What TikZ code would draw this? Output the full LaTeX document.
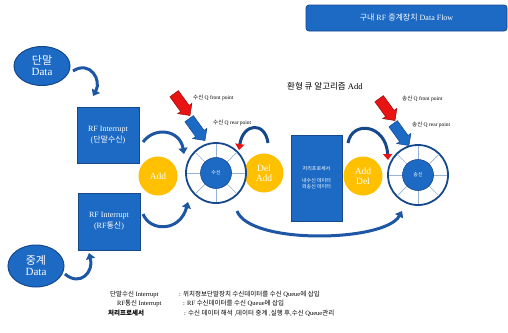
\documentclass[tikz,border=0pt]{standalone}
\usepackage{fontspec}
\setmainfont{Liberation Serif}
\newfontfamily\kr{Noto Sans CJK KR}
\usetikzlibrary{arrows.meta,shapes.arrows,shapes.geometric}
\definecolor{myblue}{RGB}{28,106,196}
\definecolor{edgeblue}{RGB}{22,72,140}
\definecolor{arrowblue}{RGB}{28,86,164}
\definecolor{myyellow}{RGB}{255,192,0}
\definecolor{myred}{RGB}{232,20,20}
\definecolor{darkred}{RGB}{150,10,10}
\definecolor{spoke}{RGB}{150,180,215}
\begin{document}
\begin{tikzpicture}[x=1pt,y=-1pt,
  bluebox/.style={draw=edgeblue, line width=0.8pt, fill=myblue, text=white, inner sep=0pt, align=center},
  blueell/.style={ellipse, draw=edgeblue, line width=1pt, fill=myblue, text=white, inner sep=0pt, align=center, font=\fontsize{11}{12}\selectfont},
  yel/.style={circle, fill=myyellow, text=white, inner sep=0pt, minimum size=39pt, align=center, font=\fontsize{9.5}{10.5}\selectfont},
  ring/.style={circle, draw=edgeblue, line width=1.8pt, fill=white, minimum size=60pt, inner sep=0pt},
  hub/.style={circle, draw=edgeblue, line width=0.6pt, fill=myblue, minimum size=31pt, inner sep=0pt, text=white, font=\kr\fontsize{5}{6}\selectfont},
  curvearrow/.style={draw=arrowblue, line width=3pt, -{Triangle[length=6pt,width=9pt]}},
  redcurve/.style={draw=edgeblue, line width=3pt, -{Triangle[length=6pt,width=9pt,color=myred]}},
  redblock/.style={single arrow, draw=darkred, fill=myred, line width=0.5pt, minimum height=27pt, inner sep=5pt, single arrow head extend=3.5pt, single arrow head indent=0pt, rotate=-54},
  blueblock/.style={single arrow, draw=edgeblue, fill=myblue, line width=0.5pt, minimum height=27pt, inner sep=5pt, single arrow head extend=3.5pt, rotate=-54},
  qlabel/.style={anchor=west, inner sep=0pt, font=\fontsize{5.5}{6}\selectfont},
  note/.style={anchor=west, inner sep=0pt, font=\fontsize{6.5}{8}\selectfont}]
\useasboundingbox (0,0) rectangle (508,332);

% title
\node[bluebox, rounded corners=3pt, minimum width=201pt, minimum height=26pt, font=\fontsize{8}{9}\selectfont] (title) at (406.5,18) {{\kr 구내} RF {\kr 중계장치} Data Flow};

% data ellipses
\node[blueell, minimum width=56pt, minimum height=39pt] (d1) at (42,66) {{\kr 단말}\\[-1pt]Data};
\node[blueell, minimum width=56pt, minimum height=42pt] (d2) at (36,266) {{\kr 중계}\\[-1pt]Data};

% interrupt boxes
\node[bluebox, minimum width=62pt, minimum height=56pt, font=\fontsize{8}{11}\selectfont] (b1) at (108,135) {RF Interrupt\\({\kr 단말수신})};
\node[bluebox, minimum width=62pt, minimum height=57pt, font=\fontsize{8}{11}\selectfont] (b2) at (109,221.5) {RF Interrupt\\(RF{\kr 통신})};

% processor box
\node[bluebox, minimum width=51pt, minimum height=86pt, font=\kr\fontsize{5}{8}\selectfont] (proc) at (316.5,178) {처리프로세서\\[4pt]내수신 데이터\\[-2pt]외송신 데이터};

% yellow circles
\node[yel] (add1) at (158,176) {Add};
\node[yel] (deladd) at (264,173) {Del\\[-1pt]Add};
\node[yel] (adddel) at (363,176) {Add\\[-1pt]Del};

% wheels
\node[ring] (w1) at (216,173) {};
\foreach \a in {0,45,...,315} \draw[spoke, line width=0.7pt] (w1.center) ++(\a:15.5) -- ++(\a:13.5);
\node[hub] (h1) at (w1.center) {수신};
\node[ring] (w2) at (418,175) {};
\foreach \a in {0,45,...,315} \draw[spoke, line width=0.7pt] (w2.center) ++(\a:15.5) -- ++(\a:13.5);
\node[hub] (h2) at (w2.center) {송신};

% block arrows
\node[redblock] (ra1) at (180.5,102.5) {};
\node[blueblock] (ba1) at (195.5,127.5) {};
\node[redblock] (ra2) at (385.5,107.5) {};
\node[blueblock] (ba2) at (399.5,132.5) {};

% labels
\node[qlabel] (lq1) at (193,98) {{\kr 수신} Q front point};
\node[qlabel] (lq2) at (213,123) {{\kr 수신} Q rear point};
\node[qlabel] (lq3) at (402,99) {{\kr 송신} Q front point};
\node[qlabel] (lq4) at (412,125) {{\kr 송신} Q rear point};
\node[anchor=west, inner sep=0pt, font=\fontsize{8.5}{9}\selectfont] (algo) at (287,86) {{\kr 환형 큐 알고리즘} Add};

% curved connectors
\coordinate (c1s) at (73,71);
\coordinate (c1e) at (93,96);
\draw[curvearrow] (c1s) .. controls (90,60) and (102,80) .. (c1e);
\coordinate (c2s) at (65,274);
\coordinate (c2e) at (89,253);
\draw[curvearrow] (c2s) .. controls (80,287) and (94,272) .. (c2e);
\coordinate (c3s) at (143,142);
\coordinate (c3e) at (184,154);
\draw[curvearrow] (c3s) .. controls (155,126) and (180,130) .. (c3e);
\coordinate (c4s) at (143,214);
\coordinate (c4e) at (188,202);
\draw[curvearrow] (c4s) .. controls (150,232) and (180,232) .. (c4e);
\coordinate (c5s) at (237,211);
\coordinate (c5e) at (402,211);
\draw[curvearrow] (c5s) .. controls (250,245) and (385,242) .. (c5e);
\coordinate (r1s) at (268,143);
\coordinate (r1e) at (239,150);
\draw[redcurve] (r1s) .. controls (265,121) and (243,123) .. (r1e);
\coordinate (r2s) at (348,143);
\coordinate (r2e) at (388,160);
\draw[redcurve] (r2s) .. controls (352,120) and (386,124) .. (r2e);

% notes
\node[note] (n1) at (110,294) {{\kr 단말수신} Interrupt};
\node[note] (n1b) at (179,294) {: {\kr 위치정보단말장치 수신데이터를 수신} Queue{\kr 에 삽입}};
\node[note] (n2) at (117,303.5) {RF{\kr 통신} Interrupt};
\node[note] (n2b) at (183,303.5) {: RF {\kr 수신데이터를 수신} Queue{\kr 에 삽입}};
\node[note] (n3) at (108,313) {\kr\bfseries 처리프로세서};
\node[note] (n3b) at (184,313) {: {\kr 수신 데이터 해석} ,{\kr 데이터 중계} ,{\kr 실행 후},{\kr 수신} Queue{\kr 관리}};
\end{tikzpicture}
\end{document}
